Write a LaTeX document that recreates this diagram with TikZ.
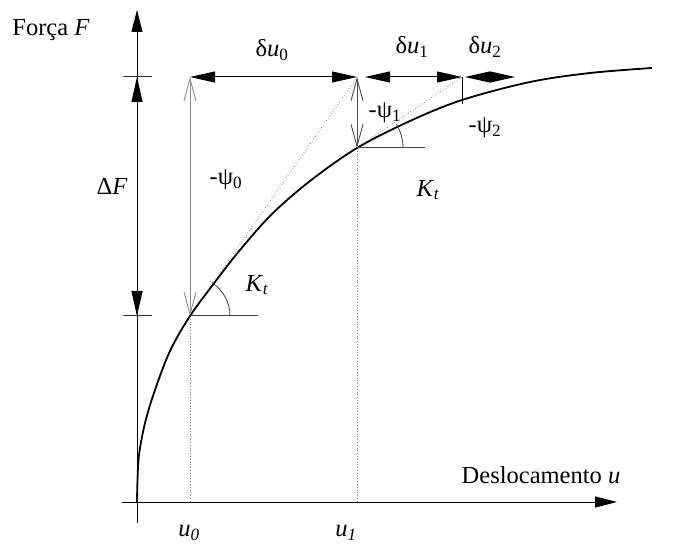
\documentclass[tikz,border=0pt]{standalone}
\usepackage{fontspec}
\setmainfont{Liberation Serif}
\usetikzlibrary{arrows.meta}
\begin{document}
\begin{tikzpicture}[x=1pt,y=-1pt,
  lbl/.style={font=\fontsize{24.5}{28}\selectfont, inner sep=0pt},
  axis/.style={line width=1pt, -{Triangle[length=22pt,width=11pt]}},
  dim/.style={line width=1pt, {Triangle[length=25pt,width=11pt]}-{Triangle[length=25pt,width=11pt]}},
  psi/.style={line width=0.9pt, {Straight Barb[length=22pt,width=12pt]}-{Straight Barb[length=22pt,width=12pt]}},
  guide/.style={gray, dotted, line width=0.8pt},
  tickmark/.style={line width=1pt, black!80},
  tangent/.style={line width=1pt, black!75},
  anglearc/.style={line width=0.8pt, black!75},
  curve/.style={line width=1.8pt}]
\useasboundingbox (0,0) rectangle (675,545);
% coordinates
\coordinate (Ybot) at (137,523);
\coordinate (Ytop) at (137,10);
\coordinate (Xl) at (122,502);
\coordinate (Xr) at (617,502);
\coordinate (P0) at (190,316);
\coordinate (P1) at (357,148);
\coordinate (P2) at (462,104);
\coordinate (B0) at (190,502);
\coordinate (B1) at (357,502);
\coordinate (T0) at (190,77);
\coordinate (T1) at (357,77);
\coordinate (T1b) at (365,77);
\coordinate (T2) at (462,77);
\coordinate (T2b) at (465,77);
\coordinate (E2) at (515,77);
\coordinate (A0) at (137,77);
\coordinate (A1) at (137,316);
\coordinate (K0l) at (123,77);
\coordinate (K0r) at (152,77);
\coordinate (K1l) at (123,316);
\coordinate (K1r) at (152,316);
\coordinate (H0) at (258,316);
\coordinate (H1) at (425,148);
% axes
\draw[axis] (Ybot) -- (Ytop);
\draw[axis] (Xl) -- (Xr);
% Delta F dimension
\draw[tickmark] (K0l) -- (K0r);
\draw[tickmark] (K1l) -- (K1r);
\draw[dim] (A0) -- (A1);
% guides
\draw[guide] (P0) -- (B0);
\draw[guide] (P1) -- (B1);
\draw[guide] (P0) -- (T1);
\draw[guide] (P1) -- (T2);
% curve
\draw[curve] plot[smooth, tension=0.55] coordinates {(137,502) (137.5,480) (139,455) (145,423) (155,390) (170,351) (190,316) (215,282) (240,250) (272,214) (310,181) (357,148) (410,121) (462,100) (530,82) (590,73) (652,68)};
% tangents and angles
\draw[tangent] (P0) -- (H0);
\draw[tangent] (P1) -- (H1);
\draw[anglearc] (P0) ++(40,0) arc[start angle=0, end angle=-57, radius=40];
\draw[anglearc] (P1) ++(46,0) arc[start angle=0, end angle=-31, radius=46];
% residual arrows
\draw[psi, black!45] (P0) -- (T0);
\draw[psi, black!70] (P1) -- (T1);
\draw[line width=1pt] (P2) -- (T2);
% delta u dimensions
\draw[dim] (T0) -- (T1);
\draw[dim] (T1b) -- (T2);
\draw[dim] (T2b) -- (E2);
% labels
\node[lbl] (lF) at (51,30) {Força \textit{F}};
\node[lbl] (lDF) at (112,186) {Δ\textit{F}};
\node[lbl] (ldu0) at (272,50) {δ\textit{u}\textsubscript{0}};
\node[lbl] (ldu1) at (412,47) {δ\textit{u}\textsubscript{1}};
\node[lbl] (ldu2) at (485,47) {δ\textit{u}\textsubscript{2}};
\node[lbl] (lp0) at (226,180) {-ψ\textsubscript{0}};
\node[lbl] (lp1) at (385,113) {-ψ\textsubscript{1}};
\node[lbl] (lp2) at (485,128) {-ψ\textsubscript{2}};
\node[lbl] (lK0) at (257,285) {\textit{K}\textsubscript{\textit{t}}};
\node[lbl] (lK1) at (428,190) {\textit{K}\textsubscript{\textit{t}}};
\node[lbl] (lu) at (541,475) {Deslocamento \textit{u}};
\node[lbl] (lu0) at (189,533) {\textit{u}\textsubscript{\textit{0}}};
\node[lbl] (lu1) at (346,533) {\textit{u}\textsubscript{\textit{1}}};
\end{tikzpicture}
\end{document}
